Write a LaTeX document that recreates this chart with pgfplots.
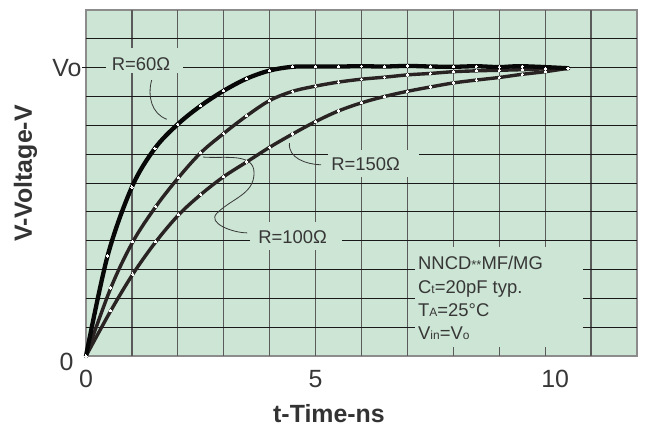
\documentclass[border=0pt]{standalone}
\usepackage{fontspec}
\setmainfont{Liberation Sans}
\usepackage{pgfplots}
\usepackage{pgfplotstable}
\pgfplotsset{compat=1.18}
\definecolor{bg}{RGB}{204,229,212}
\definecolor{cA}{RGB}{8,8,8}
\definecolor{cB}{RGB}{42,35,35}
\definecolor{vgrid}{RGB}{90,90,90}
\definecolor{hgrid}{RGB}{25,25,25}
\definecolor{frame}{RGB}{140,140,140}
\definecolor{txt}{RGB}{55,55,55}
\newcommand\tickfont{\fontsize{25}{25}\selectfont}
\newcommand\labfont{\fontsize{25}{25}\selectfont\bfseries}
\newcommand\notefont{\fontsize{18.5}{18.5}\selectfont}
\newcommand\sm[1]{{\fontsize{12}{12}\selectfont #1}}

% R = 60 ohm
\pgfplotstableread{
x y
0 0
0.47 3.47
1.0 5.86
1.5 7.2
2 8.04
2.5 8.68
3 9.2
3.5 9.62
4 9.9
4.5 10.03
5 10.04
5.5 10.04
6 10.05
6.5 10.04
7 10.06
7.5 10.04
8 10.03
8.5 10.05
9 10.02
9.5 10.05
10.5 9.98
}\tabA
% R = 100 ohm
\pgfplotstableread{
x y
0 0
0.54 2.36
1.02 3.96
1.52 5.18
2.01 6.18
2.5 7.05
3 7.72
3.5 8.33
4 8.86
4.5 9.18
5 9.36
5.5 9.5
6 9.6
6.5 9.67
7 9.75
7.5 9.8
8 9.86
8.5 9.89
9 9.91
9.5 9.93
10 9.96
10.5 9.98
}\tabB
% R = 150 ohm
\pgfplotstableread{
x y
0 0
0.54 1.57
1.02 2.84
1.52 3.96
2.02 4.9
2.5 5.6
3 6.22
3.5 6.73
4 7.24
4.5 7.7
5 8.13
5.5 8.5
6 8.78
6.5 9.0
7 9.18
7.5 9.33
8 9.47
8.5 9.57
9 9.66
9.5 9.77
10 9.86
10.5 9.98
}\tabC

\begin{document}
\begin{tikzpicture}
\useasboundingbox (-86bp,-70bp) rectangle (560bp,356bp);
\begin{axis}[
  at={(0,0)}, anchor=south west,
  scale only axis, width=551bp, height=346bp,
  xmin=0, xmax=12, ymin=0, ymax=12,
  clip=false,
  axis background/.style={fill=bg},
  axis line style={draw=frame, line width=1.4bp},
  xtick={0,5,10}, xticklabels={0,5,\hspace*{20bp}10},
  ytick={0,10}, yticklabels={{\raisebox{-6bp}[\height][\depth]{0}\hspace*{8bp}},{Vo}},
  major tick length=0pt, minor tick length=0pt,
  tick style={draw=none},
  xticklabel style={font=\tickfont, text=txt, yshift=-11bp},
  yticklabel style={font=\tickfont, text=txt, xshift=-1bp},
  xlabel={t-Time-ns},
  xlabel style={at={(axis description cs:0.441,-0.1908)}, anchor=base, font=\labfont, text=black!80},
  ylabel={V-Voltage-V},
  ylabel style={at={(axis description cs:-0.098,0.5275)}, anchor=base, font=\labfont, text=black!80},
]
% grid
\pgfplotsinvokeforeach{1,...,11}{
  \draw[vgrid, line width=1.2bp] (#1,0) -- (#1,12);
}
\pgfplotsinvokeforeach{1,...,11}{
  \draw[hgrid, line width=0.9bp] (0,#1) -- (12,#1);
}
\draw[hgrid, line width=0.9bp] (0,10) -- ++(-4bp,0);
% label masks
\fill[bg] (0.436,9.82) rectangle (2.112,10.68);
\fill[bg] (5.27,6.21) rectangle (7.25,7.15);
\fill[bg] (3.57,3.68) rectangle (5.57,4.65);
\fill[bg] (7.165,0.31) rectangle (10.82,3.78);
% leaders
\draw[txt, line width=0.8bp] (1.43,9.57) to[out=255,in=160] (1.76,8.21);
\draw[txt, line width=0.8bp] (4.43,7.38) to[out=265,in=178] (5.12,6.63);
\draw[txt, line width=0.8bp] (2.55,6.90) to[out=-5,in=90] (3.66,6.35) to[out=270,in=45] (2.85,4.95) to[out=225,in=180] (3.51,4.27);
% curves
\addplot[cB, line width=3.4bp, smooth, tension=0.55, no marks, line cap=round] table {\tabC};
\addplot[cB, line width=3.4bp, smooth, tension=0.55, no marks, line cap=round] table {\tabB};
\addplot[cA, line width=4.3bp, smooth, tension=0.55, no marks, line cap=round] table {\tabA};
\addplot[only marks, mark=*, mark size=1.15bp, mark options={fill=white, draw=white, line width=0pt}] table {\tabC};
\addplot[only marks, mark=*, mark size=1.15bp, mark options={fill=white, draw=white, line width=0pt}] table {\tabB};
\addplot[only marks, mark=*, mark size=1.15bp, mark options={fill=white, draw=white, line width=0pt}] table {\tabA};
% labels
\node[anchor=base, font=\notefont, text=txt, inner sep=0pt] at (1.198,9.89) {R=60Ω};
\node[anchor=base, font=\notefont, text=txt, inner sep=0pt] at (6.09,6.42) {R=150Ω};
\node[anchor=base, font=\notefont, text=txt, inner sep=0pt] at (4.50,3.91) {R=100Ω};
\node[anchor=base west, font=\notefont, text=txt, inner sep=0pt] at (7.23,3.00) {NNCD{\fontsize{13}{13}\selectfont **}MF/MG};
\node[anchor=base west, font=\notefont, text=txt, inner sep=0pt] at (7.23,2.185) {C\sm{t}=20pF typ.};
\node[anchor=base west, font=\notefont, text=txt, inner sep=0pt] at (7.23,1.387) {T\sm{A}=25°C};
\node[anchor=base west, font=\notefont, text=txt, inner sep=0pt] at (7.23,0.572) {V\sm{in}=V\sm{o}};
\end{axis}
\end{tikzpicture}
\end{document}
